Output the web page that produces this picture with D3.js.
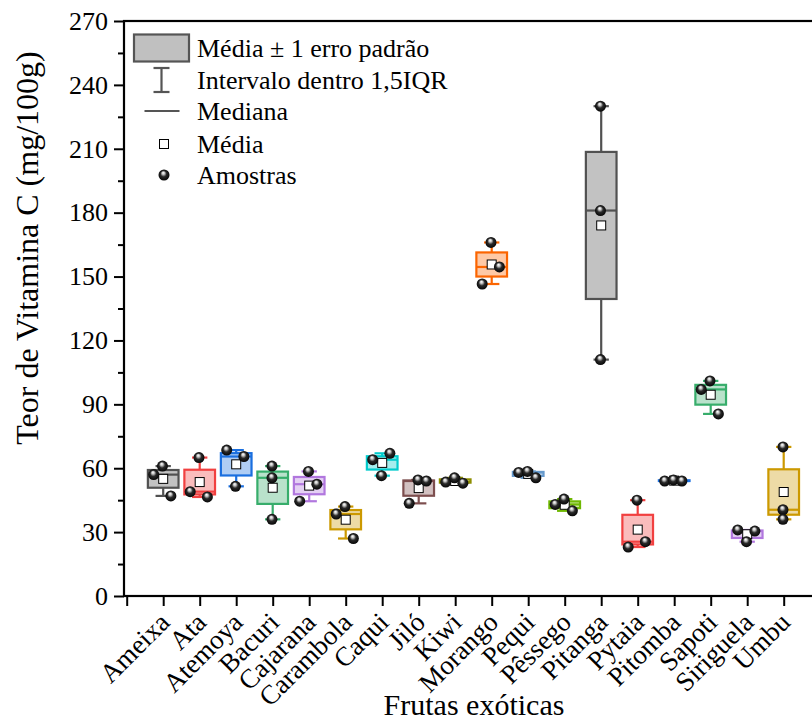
<!DOCTYPE html>
<html>
<head>
<meta charset="utf-8">
<script src="https://cdn.jsdelivr.net/npm/d3@7"></script>
<style>
  body { margin: 0; background: #fff; }
  svg { display: block; }
  svg text { font-family: "Liberation Serif", "Times New Roman", serif; fill: #000; }
</style>
</head>
<body>
<svg id="chart" width="812" height="722" font-family="Liberation Serif, serif"></svg>
<script>
// Vitamin C content of exotic fruits, three replicate samples per fruit
const fruits = ["Ameixa", "Ata", "Atemoya", "Bacuri", "Cajarana", "Carambola", "Caqui", "Jiló", "Kiwi",
                "Morango", "Pequi", "Pêssego", "Pitanga", "Pytaia", "Pitomba", "Sapoti", "Siriguela", "Umbu"];
const rep1 = [61, 65, 68.5, 61, 58.5, 42, 67, 54.5, 53.5, 166, 58, 43, 230, 45, 54, 101, 31, 70];
const rep2 = [57, 49, 65.5, 55.5, 52.5, 38.5, 64, 54, 55.5, 154.5, 58.5, 45.5, 181, 25.5, 54.5, 97, 30.5, 40.5];
const rep3 = [47, 46.5, 51.5, 36, 44.5, 27, 56.5, 43.5, 53, 146.5, 55.5, 40, 111, 23, 54, 85.5, 25.5, 36];

const yTicks = [0, 30, 60, 90, 120, 150, 180, 210, 240, 270];
const yMinorTicks = [15, 45, 75, 105, 135, 165, 195, 225, 255];

const legendLabels = ["Média ± 1 erro padrão", "Intervalo dentro 1,5IQR", "Mediana", "Média", "Amostras"];
const xTitle = "Frutas exóticas";
const yTitle = "Teor de Vitamina C (mg/100g)";

// colour cycle for the boxes
const palette = ["#515151", "#F14040", "#1A6FDF", "#37AD6B", "#B177DE", "#CC9900",
                 "#00CBCC", "#7D4E4E", "#8E8E00", "#FB6501", "#6699CC", "#6FB802"];

// horizontal spread slot of each replicate point (-1 left, 0 centre, 1 right)
const spreadSlots = [[0,-1,1],[0,-1,1],[-1,1,0],[0,0,0],[0,1,-1],[0,-1,1],[1,-1,0],[0,1,-1],[-1,0,1],
                     [0,1,-1],[-1,0,1],[-1,0,1],[0,0,0],[0,1,-1],[-1,0,1],[0,-1,1],[-1,1,0],[0,0,0]];
const slotShift = { "-1": -0.26, "0": -0.02, "1": 0.21 };

const FONT = "'Liberation Serif', 'Times New Roman', serif";
const svg = d3.select("#chart");
const frame = { left: 124, top: 21, bottom: 596, right: 820 };

const x = d3.scaleLinear().domain([0, 19]).range([126.7, 126.7 + 19 * 36.5]);
const y = d3.scaleLinear().domain([0, 270]).range([frame.bottom, frame.top]);
const unit = x(1) - x(0);
const boxW = 0.84 * unit;
const capW = 0.42 * unit;

// sphere look for the sample points
const defs = svg.append("defs");
const grad = defs.append("radialGradient").attr("id", "ball")
  .attr("cx", "0.5").attr("cy", "0.5").attr("r", "0.55").attr("fx", "0.42").attr("fy", "0.28");
grad.append("stop").attr("offset", "0").attr("stop-color", "#ffffff");
grad.append("stop").attr("offset", "0.22").attr("stop-color", "#c8c8c8");
grad.append("stop").attr("offset", "0.5").attr("stop-color", "#2a2a2a");
grad.append("stop").attr("offset", "1").attr("stop-color", "#000000");

// summary statistics per fruit
const stats = fruits.map((name, i) => {
  const vals = [rep1[i], rep2[i], rep3[i]];
  const sorted = vals.slice().sort(d3.ascending);
  const mean = d3.mean(vals);
  const se = d3.deviation(vals) / Math.sqrt(vals.length);
  const q1 = d3.quantile(sorted, 0.25), q3 = d3.quantile(sorted, 0.75), iqr = q3 - q1;
  const inside = sorted.filter(v => v >= q1 - 1.5 * iqr && v <= q3 + 1.5 * iqr);
  return {
    name, pos: i + 1, vals, mean, se,
    median: d3.median(vals),
    lo: d3.min(inside), hi: d3.max(inside),
    slots: spreadSlots[i],
    color: palette[i % palette.length]
  };
});

// axes
const yAxis = d3.axisLeft(y).tickValues(yTicks).tickSize(10).tickPadding(6).tickFormat(d3.format("d"));
const gy = svg.append("g").attr("transform", `translate(${frame.left},0)`).call(yAxis)
  .attr("font-family", FONT).attr("font-size", 26);
gy.select(".domain").remove();
gy.selectAll(".tick line").attr("stroke", "#000").attr("stroke-width", 2);
gy.selectAll(".tick text").attr("font-size", 26).style("font-family", FONT).attr("fill", "#000");

const yMinor = d3.axisLeft(y).tickValues(yMinorTicks).tickSize(6).tickFormat("");
const gym = svg.append("g").attr("transform", `translate(${frame.left},0)`).call(yMinor);
gym.select(".domain").remove();
gym.selectAll(".tick line").attr("stroke", "#000").attr("stroke-width", 2);

const xAxis = d3.axisBottom(x).tickValues(d3.range(0, fruits.length + 1)).tickSize(10).tickFormat("");
const gx = svg.append("g").attr("transform", `translate(0,${frame.bottom})`).call(xAxis);
gx.select(".domain").remove();
gx.selectAll(".tick line").attr("stroke", "#000").attr("stroke-width", 2);

svg.append("g").selectAll("text").data(stats).join("text")
  .attr("transform", d => `translate(${x(d.pos) + 8},${frame.bottom + 28}) rotate(-45)`)
  .attr("text-anchor", "end")
  .attr("font-size", 27)
  .style("font-family", FONT)
  .text(d => d.name);

// frame
svg.append("rect")
  .attr("x", frame.left).attr("y", frame.top)
  .attr("width", frame.right - frame.left).attr("height", frame.bottom - frame.top)
  .attr("fill", "none").attr("stroke", "#000").attr("stroke-width", 2.2);

// axis titles
svg.append("text")
  .attr("x", 474).attr("y", 715)
  .attr("text-anchor", "middle").attr("font-size", 30)
  .style("font-family", FONT)
  .text(xTitle);
svg.append("text")
  .attr("transform", "translate(38,248) rotate(-90)")
  .attr("text-anchor", "middle").attr("font-size", 32)
  .style("font-family", FONT)
  .text(yTitle);

// boxes
const groups = svg.append("g").selectAll("g").data(stats).join("g");

groups.append("rect")
  .attr("x", d => x(d.pos) - boxW / 2)
  .attr("y", d => y(d.mean + d.se))
  .attr("width", boxW)
  .attr("height", d => y(d.mean - d.se) - y(d.mean + d.se))
  .attr("fill", d => d.color).attr("fill-opacity", 0.35)
  .attr("stroke", d => d.color).attr("stroke-width", 2.2);

// whiskers, median, mean and samples
groups.each(function(d) {
  const g = d3.select(this);
  const cx = x(d.pos);
  const top = d.mean + d.se, bot = d.mean - d.se;
  if (d.hi > top) g.append("line").attr("x1", cx).attr("x2", cx).attr("y1", y(top)).attr("y2", y(d.hi))
    .attr("stroke", d.color).attr("stroke-width", 2.2);
  if (d.lo < bot) g.append("line").attr("x1", cx).attr("x2", cx).attr("y1", y(bot)).attr("y2", y(d.lo))
    .attr("stroke", d.color).attr("stroke-width", 2.2);
  [d.hi, d.lo].forEach(v => g.append("line")
    .attr("x1", cx - capW / 2).attr("x2", cx + capW / 2).attr("y1", y(v)).attr("y2", y(v))
    .attr("stroke", d.color).attr("stroke-width", 2.2));
  g.append("line")
    .attr("x1", cx - boxW / 2).attr("x2", cx + boxW / 2)
    .attr("y1", y(d.median)).attr("y2", y(d.median))
    .attr("stroke", d.color).attr("stroke-width", 2.2);
  g.append("rect")
    .attr("x", cx - 4.5).attr("y", y(d.mean) - 4.5).attr("width", 9).attr("height", 9)
    .attr("fill", "#fff").attr("stroke", "#000").attr("stroke-width", 1);
  d.vals.forEach((v, k) => g.append("circle")
    .attr("cx", x(d.pos + slotShift[d.slots[k]]))
    .attr("cy", y(v)).attr("r", 5.5)
    .attr("fill", "url(#ball)"));
});

// legend
const lg = svg.append("g");
const legendGray = "#555555";
const iconX = 161.5, textX = 197;
const rows = [48, 80, 111, 144, 175];
lg.append("rect").attr("x", iconX - 27.5).attr("y", rows[0] - 13.5).attr("width", 55).attr("height", 27)
  .attr("fill", "#c0c0c0").attr("stroke", legendGray).attr("stroke-width", 2.2);
lg.append("line").attr("x1", iconX).attr("x2", iconX).attr("y1", rows[1] - 12).attr("y2", rows[1] + 12)
  .attr("stroke", legendGray).attr("stroke-width", 2.2);
[rows[1] - 12, rows[1] + 12].forEach(yy => lg.append("line")
  .attr("x1", iconX - 8).attr("x2", iconX + 8).attr("y1", yy).attr("y2", yy)
  .attr("stroke", legendGray).attr("stroke-width", 2.2));
lg.append("line").attr("x1", iconX - 17).attr("x2", iconX + 18).attr("y1", rows[2]).attr("y2", rows[2])
  .attr("stroke", legendGray).attr("stroke-width", 2.2);
lg.append("rect").attr("x", iconX + 2.5 - 4.5).attr("y", rows[3] - 4.5).attr("width", 9).attr("height", 9)
  .attr("fill", "#fff").attr("stroke", "#000").attr("stroke-width", 1);
lg.append("circle").attr("cx", iconX + 2.5).attr("cy", rows[4]).attr("r", 5.5).attr("fill", "url(#ball)");
lg.selectAll("text.lab").data(legendLabels).join("text").attr("class", "lab")
  .attr("x", textX).attr("y", (d, i) => rows[i] + 9)
  .attr("font-size", 26)
  .style("font-family", FONT)
  .text(d => d);
</script>
</body>
</html>
